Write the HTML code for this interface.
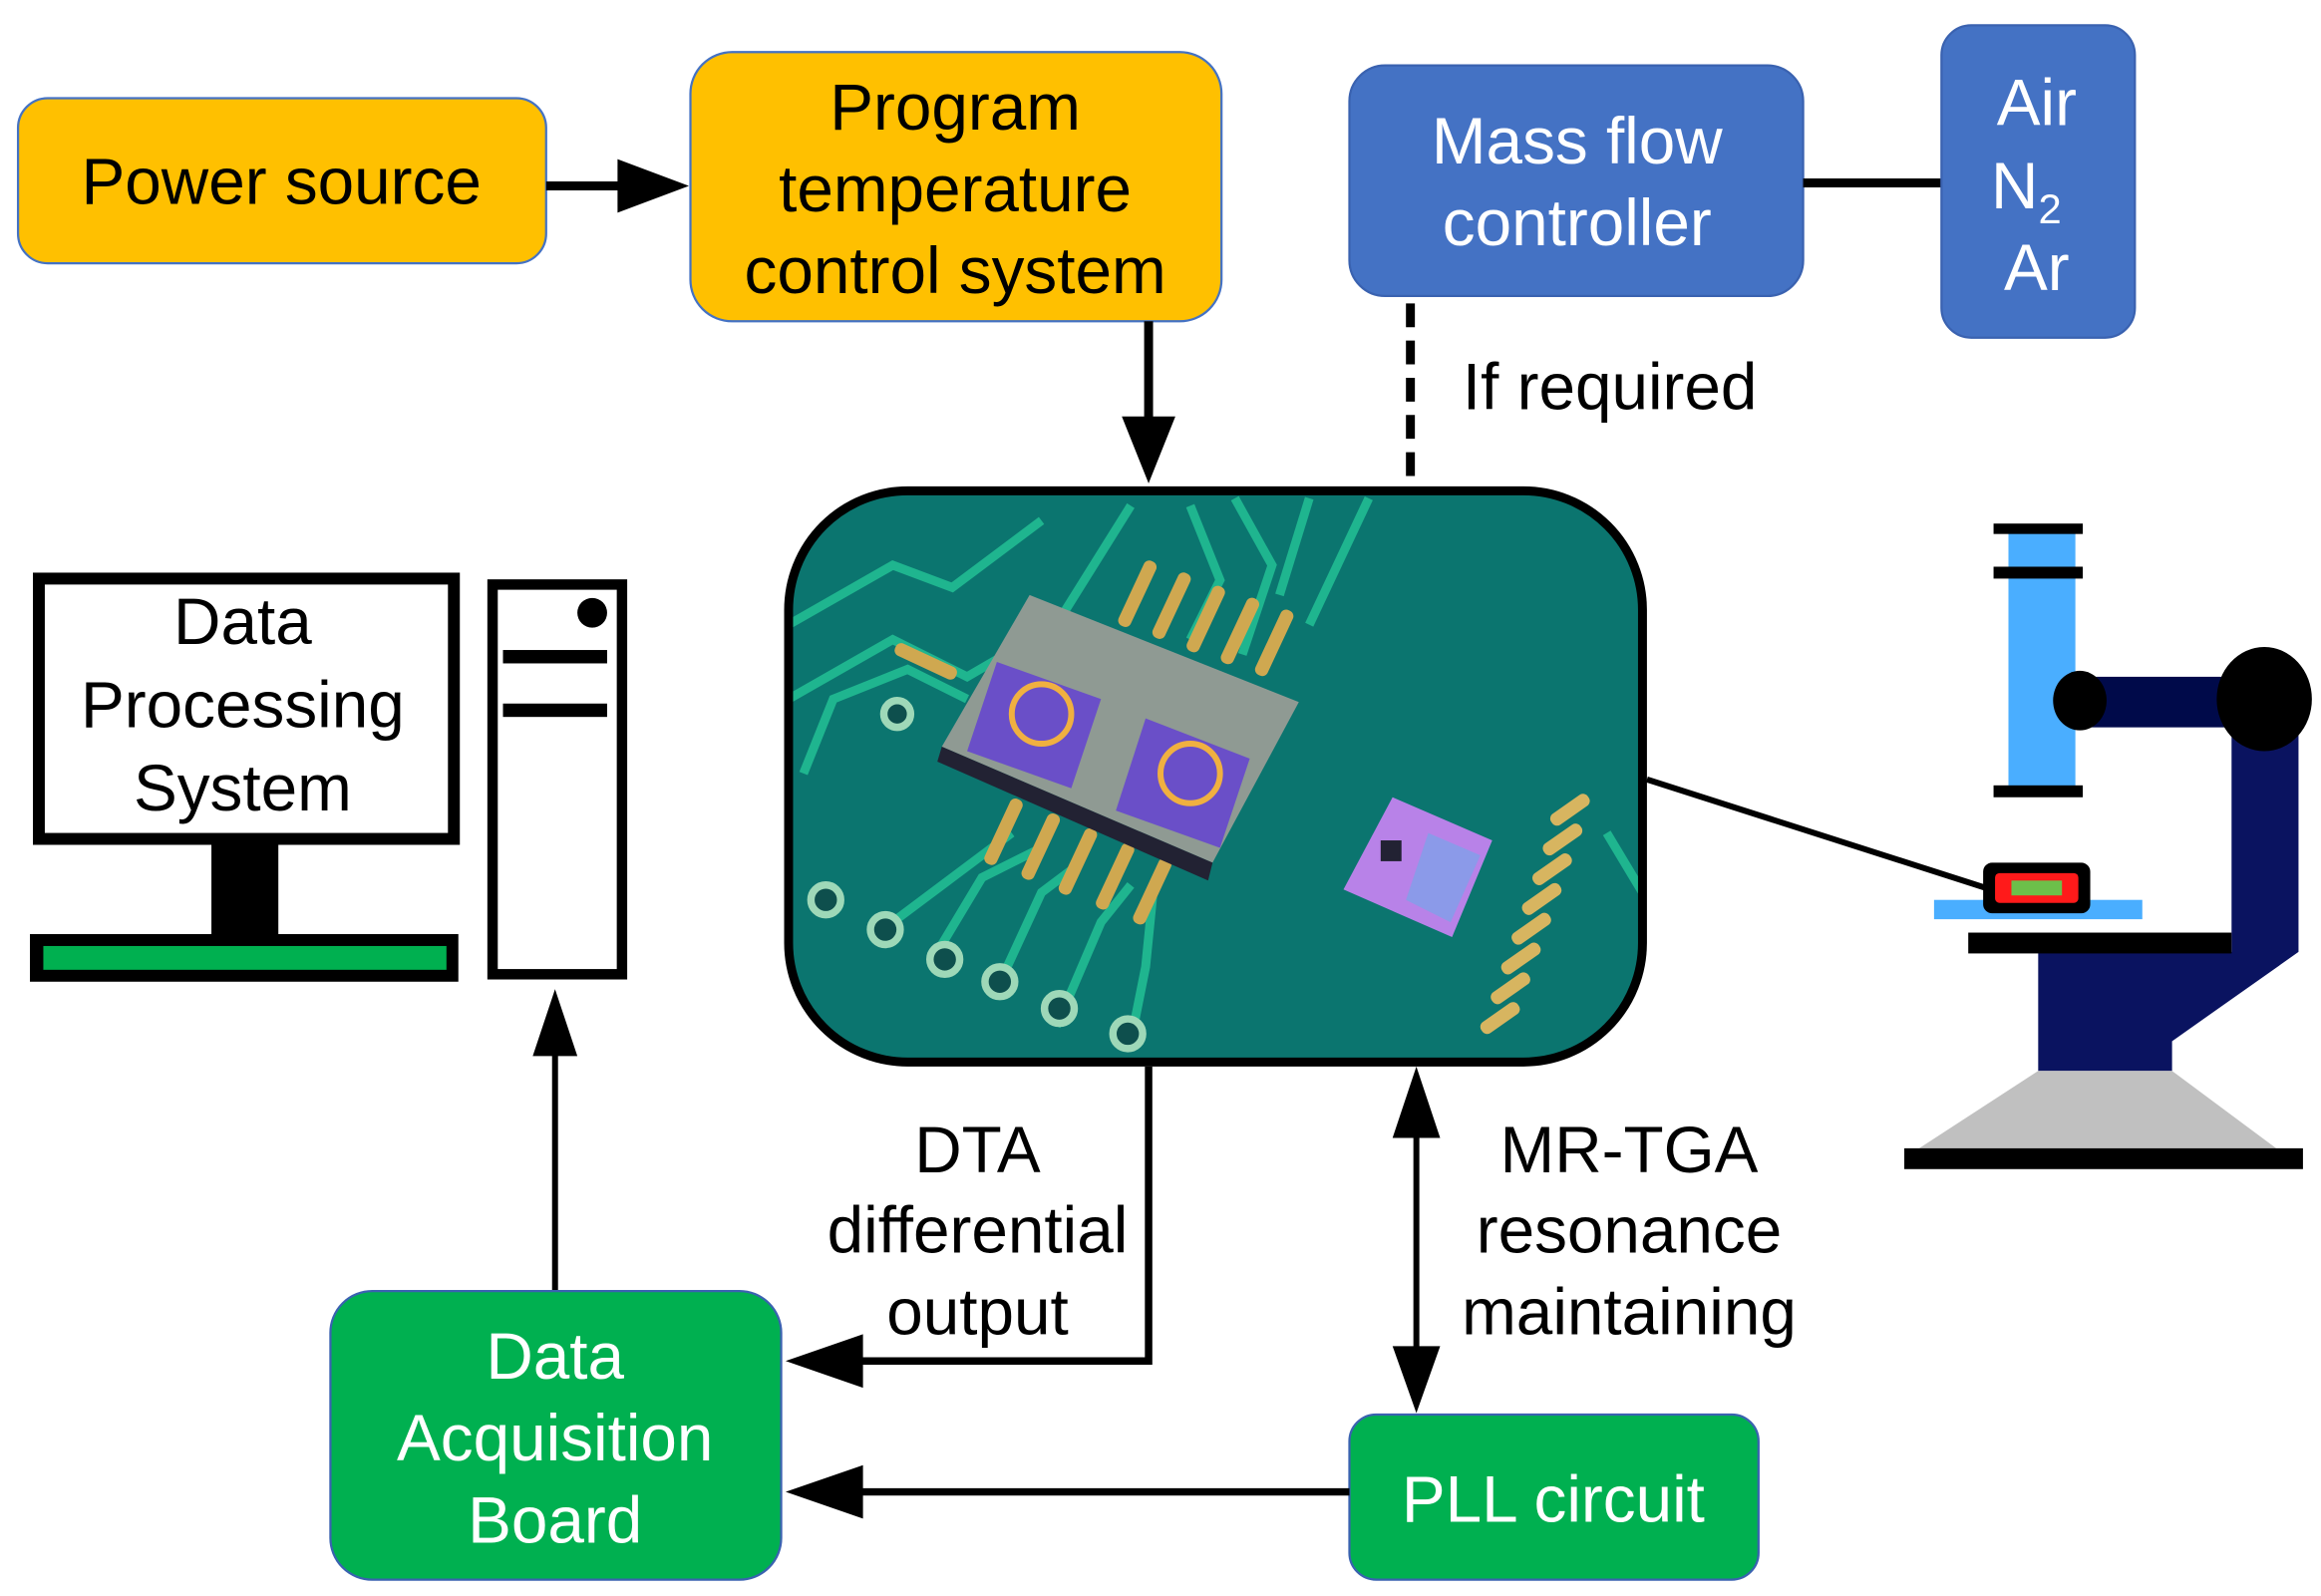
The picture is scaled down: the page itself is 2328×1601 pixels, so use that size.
<!DOCTYPE html>
<html><head><meta charset="utf-8"><style>
html,body{margin:0;padding:0;background:#fff;}
svg{display:block;}
text{font-family:"Liberation Sans",Arial,sans-serif;}
</style></head><body>
<svg width="2328" height="1601" viewBox="0 0 1560 1073" xmlns="http://www.w3.org/2000/svg">
<defs>
<clipPath id="cp"><rect x="530" y="330" width="574" height="384" rx="80"/></clipPath>
</defs>
<rect width="1560" height="1073" fill="#fff"/>

<!-- Power source -->
<rect x="12" y="66" width="355" height="111" rx="20" fill="#FFC000" stroke="#4472C4" stroke-width="1.5"/>
<text x="189" y="137" font-size="44" text-anchor="middle">Power source</text>
<line x1="367" y1="125" x2="420" y2="125" stroke="#000" stroke-width="6"/>
<polygon points="415,107 463,125 415,143" fill="#000"/>

<!-- Program temperature -->
<rect x="464" y="35" width="357" height="181" rx="28" fill="#FFC000" stroke="#4472C4" stroke-width="1.5"/>
<g font-size="44" text-anchor="middle">
<text x="642" y="87">Program</text>
<text x="642" y="142">temperature</text>
<text x="642" y="197">control system</text>
</g>
<line x1="772" y1="216" x2="772" y2="285" stroke="#000" stroke-width="6"/>
<polygon points="754,280 772,325 790,280" fill="#000"/>

<!-- Mass flow -->
<rect x="907" y="44" width="305" height="155" rx="24" fill="#4472C4" stroke="#3a62b0" stroke-width="1.5"/>
<g font-size="44" text-anchor="middle" fill="#fff">
<text x="1060" y="110">Mass flow</text>
<text x="1060" y="165">controller</text>
</g>
<line x1="1212" y1="123" x2="1305" y2="123" stroke="#000" stroke-width="6"/>
<rect x="1305" y="17" width="130" height="210" rx="20" fill="#4472C4" stroke="#3a62b0" stroke-width="1.5"/>
<g font-size="44" text-anchor="middle" fill="#fff">
<text x="1369" y="84">Air</text>
<text x="1362" y="140">N<tspan font-size="28" dy="10">2</tspan></text>
<text x="1369" y="195">Ar</text>
</g>
<line x1="948" y1="204" x2="948" y2="326" stroke="#000" stroke-width="6" stroke-dasharray="16,9"/>
<text x="983" y="275" font-size="44">If required</text>

<!-- Chip image -->
<g clip-path="url(#cp)">
<rect x="520" y="320" width="600" height="410" fill="#0a7b72"/>
<rect x="520" y="320" width="600" height="410" fill="#0d6f6c" opacity="0.4"/>
<g stroke="#1fb58f" stroke-width="6" fill="none">
<polyline points="530,420 600,380 640,395 700,350"/>
<polyline points="530,470 600,430 650,455 710,420 760,340"/>
<polyline points="540,520 560,470 610,450 650,470"/>
<polyline points="800,340 820,390 800,430"/>
<polyline points="830,335 855,380 835,440"/>
<polyline points="880,335 860,400"/>
<polyline points="920,335 880,420"/>
<polyline points="600,620 640,590 680,560"/>
<polyline points="630,640 660,590 700,570"/>
<polyline points="670,665 700,600 720,585"/>
<polyline points="710,690 740,620 760,595"/>
<polyline points="760,700 770,650 775,600"/>
<polyline points="1080,560 1104,600"/>
</g>
<g fill="#cfa850">
<rect x="760" y="375" width="9" height="48" rx="4" transform="rotate(25 764 399)"/>
<rect x="783" y="383" width="9" height="48" rx="4" transform="rotate(25 787 407)"/>
<rect x="806" y="392" width="9" height="48" rx="4" transform="rotate(25 810 416)"/>
<rect x="829" y="400" width="9" height="48" rx="4" transform="rotate(25 833 424)"/>
<rect x="852" y="408" width="9" height="48" rx="4" transform="rotate(25 856 432)"/>
<rect x="670" y="535" width="9" height="48" rx="4" transform="rotate(25 674 559)"/>
<rect x="695" y="545" width="9" height="48" rx="4" transform="rotate(25 699 569)"/>
<rect x="720" y="555" width="9" height="48" rx="4" transform="rotate(25 724 579)"/>
<rect x="745" y="565" width="9" height="48" rx="4" transform="rotate(25 749 589)"/>
<rect x="770" y="575" width="9" height="48" rx="4" transform="rotate(25 774 599)"/>
<rect x="600" y="440" width="45" height="9" rx="4" transform="rotate(25 622 444)"/>
</g>
<g fill="#d7b560">
<rect x="1040" y="540" width="30" height="9" rx="4" transform="rotate(-35 1055 544)"/>
<rect x="1035" y="560" width="30" height="9" rx="4" transform="rotate(-35 1050 564)"/>
<rect x="1028" y="580" width="30" height="9" rx="4" transform="rotate(-35 1043 584)"/>
<rect x="1021" y="600" width="30" height="9" rx="4" transform="rotate(-35 1036 604)"/>
<rect x="1014" y="620" width="30" height="9" rx="4" transform="rotate(-35 1029 624)"/>
<rect x="1007" y="640" width="30" height="9" rx="4" transform="rotate(-35 1022 644)"/>
<rect x="1000" y="660" width="30" height="9" rx="4" transform="rotate(-35 1015 664)"/>
<rect x="993" y="680" width="30" height="9" rx="4" transform="rotate(-35 1008 684)"/>
</g>
<g fill="#0e4f4d" stroke="#9ed8b8" stroke-width="5">
<circle cx="603" cy="480" r="9"/>
<circle cx="555" cy="605" r="10"/><circle cx="595" cy="625" r="10"/>
<circle cx="635" cy="645" r="10"/><circle cx="672" cy="660" r="10"/>
<circle cx="712" cy="678" r="10"/><circle cx="758" cy="695" r="10"/>
</g>
<polygon points="692,400 873,472 815,580 633,502" fill="#8f9a93"/>
<polygon points="633,502 815,580 812,592 630,512" fill="#223"/>
<polygon points="670,445 740,470 720,530 650,505" fill="#6a4fc8"/>
<polygon points="770,483 840,510 820,570 750,545" fill="#6a4fc8"/>
<circle cx="700" cy="480" r="20" fill="none" stroke="#f0b040" stroke-width="4"/>
<circle cx="800" cy="520" r="20" fill="none" stroke="#f0b040" stroke-width="4"/>
<polygon points="936,536 1003,565 976,630 903,598" fill="#b882e8"/>
<polygon points="960,560 995,575 975,620 945,605" fill="#7fa0e8" opacity="0.8"/>
<rect x="928" y="565" width="14" height="14" fill="#223"/>
</g>
<rect x="530" y="330" width="574" height="384" rx="80" fill="none" stroke="#000" stroke-width="6"/>

<!-- line to microscope -->
<line x1="1107" y1="524" x2="1338" y2="598" stroke="#000" stroke-width="4"/>

<!-- Microscope -->
<rect x="1350" y="355" width="45" height="178" fill="#4aaeff"/>
<rect x="1340" y="352" width="60" height="7" fill="#000"/>
<rect x="1340" y="381" width="60" height="8" fill="#000"/>
<rect x="1340" y="528" width="60" height="8" fill="#000"/>
<rect x="1395" y="455" width="125" height="34" fill="#000a4a"/>
<polygon points="1500,470 1545,470 1545,640 1460,700 1460,720 1370,720 1370,640 1500,640" fill="#0a1360"/>
<ellipse cx="1398" cy="471" rx="18" ry="20" fill="#000"/>
<ellipse cx="1522" cy="470" rx="32" ry="35" fill="#000"/>
<polygon points="1370,720 1460,720 1530,772 1290,772" fill="#c0c0c0"/>
<rect x="1280" y="772" width="268" height="14" fill="#000"/>
<rect x="1323" y="627" width="177" height="14" fill="#000"/>
<rect x="1300" y="605" width="140" height="13" fill="#4aaeff"/>
<rect x="1333" y="580" width="72" height="34" rx="6" fill="#000"/>
<rect x="1341" y="587" width="56" height="20" rx="3" fill="#ff1a1a"/>
<rect x="1352" y="592" width="34" height="10" fill="#6cc04a"/>

<!-- Computer -->
<rect x="26" y="389" width="279" height="175" fill="#fff" stroke="#000" stroke-width="8"/>
<g font-size="44" text-anchor="middle">
<text x="163" y="433">Data</text>
<text x="163" y="489">Processing</text>
<text x="163" y="545">System</text>
</g>
<rect x="142" y="566" width="45" height="64" fill="#000"/>
<rect x="20" y="628" width="288" height="32" fill="#000"/>
<rect x="29" y="636" width="271" height="16" fill="#00b050"/>
<rect x="331" y="393" width="87" height="262" fill="#fff" stroke="#000" stroke-width="7"/>
<circle cx="398" cy="412" r="10" fill="#000"/>
<rect x="338" y="437" width="70" height="9" fill="#000"/>
<rect x="338" y="473" width="70" height="9" fill="#000"/>
<line x1="373" y1="868" x2="373" y2="705" stroke="#000" stroke-width="4"/>
<polygon points="358,710 373,665 388,710" fill="#000"/>

<!-- DAQ -->
<rect x="222" y="868" width="303" height="194" rx="28" fill="#00B050" stroke="#3a62b0" stroke-width="1.5"/>
<g font-size="44" text-anchor="middle" fill="#fff">
<text x="373" y="927">Data</text>
<text x="373" y="982">Acquisition</text>
<text x="373" y="1037">Board</text>
</g>

<!-- DTA -->
<polyline points="772,717 772,915 575,915" fill="none" stroke="#000" stroke-width="5"/>
<polygon points="580,897 528,915 580,933" fill="#000"/>
<g font-size="44" text-anchor="middle">
<text x="657" y="788">DTA</text>
<text x="657" y="842">differential</text>
<text x="657" y="897">output</text>
</g>

<!-- MR-TGA -->
<line x1="952" y1="760" x2="952" y2="910" stroke="#000" stroke-width="4"/>
<polygon points="936,765 952,717 968,765" fill="#000"/>
<polygon points="936,905 952,950 968,905" fill="#000"/>
<g font-size="44" text-anchor="middle">
<text x="1095" y="788">MR-TGA</text>
<text x="1095" y="842">resonance</text>
<text x="1095" y="897">maintaining</text>
</g>

<!-- PLL -->
<rect x="907" y="951" width="275" height="111" rx="18" fill="#00B050" stroke="#3a62b0" stroke-width="1.5"/>
<text x="1044" y="1023" font-size="44" text-anchor="middle" fill="#fff">PLL circuit</text>
<line x1="907" y1="1003" x2="575" y2="1003" stroke="#000" stroke-width="5"/>
<polygon points="580,985 528,1003 580,1021" fill="#000"/>
</svg>
</body></html>
